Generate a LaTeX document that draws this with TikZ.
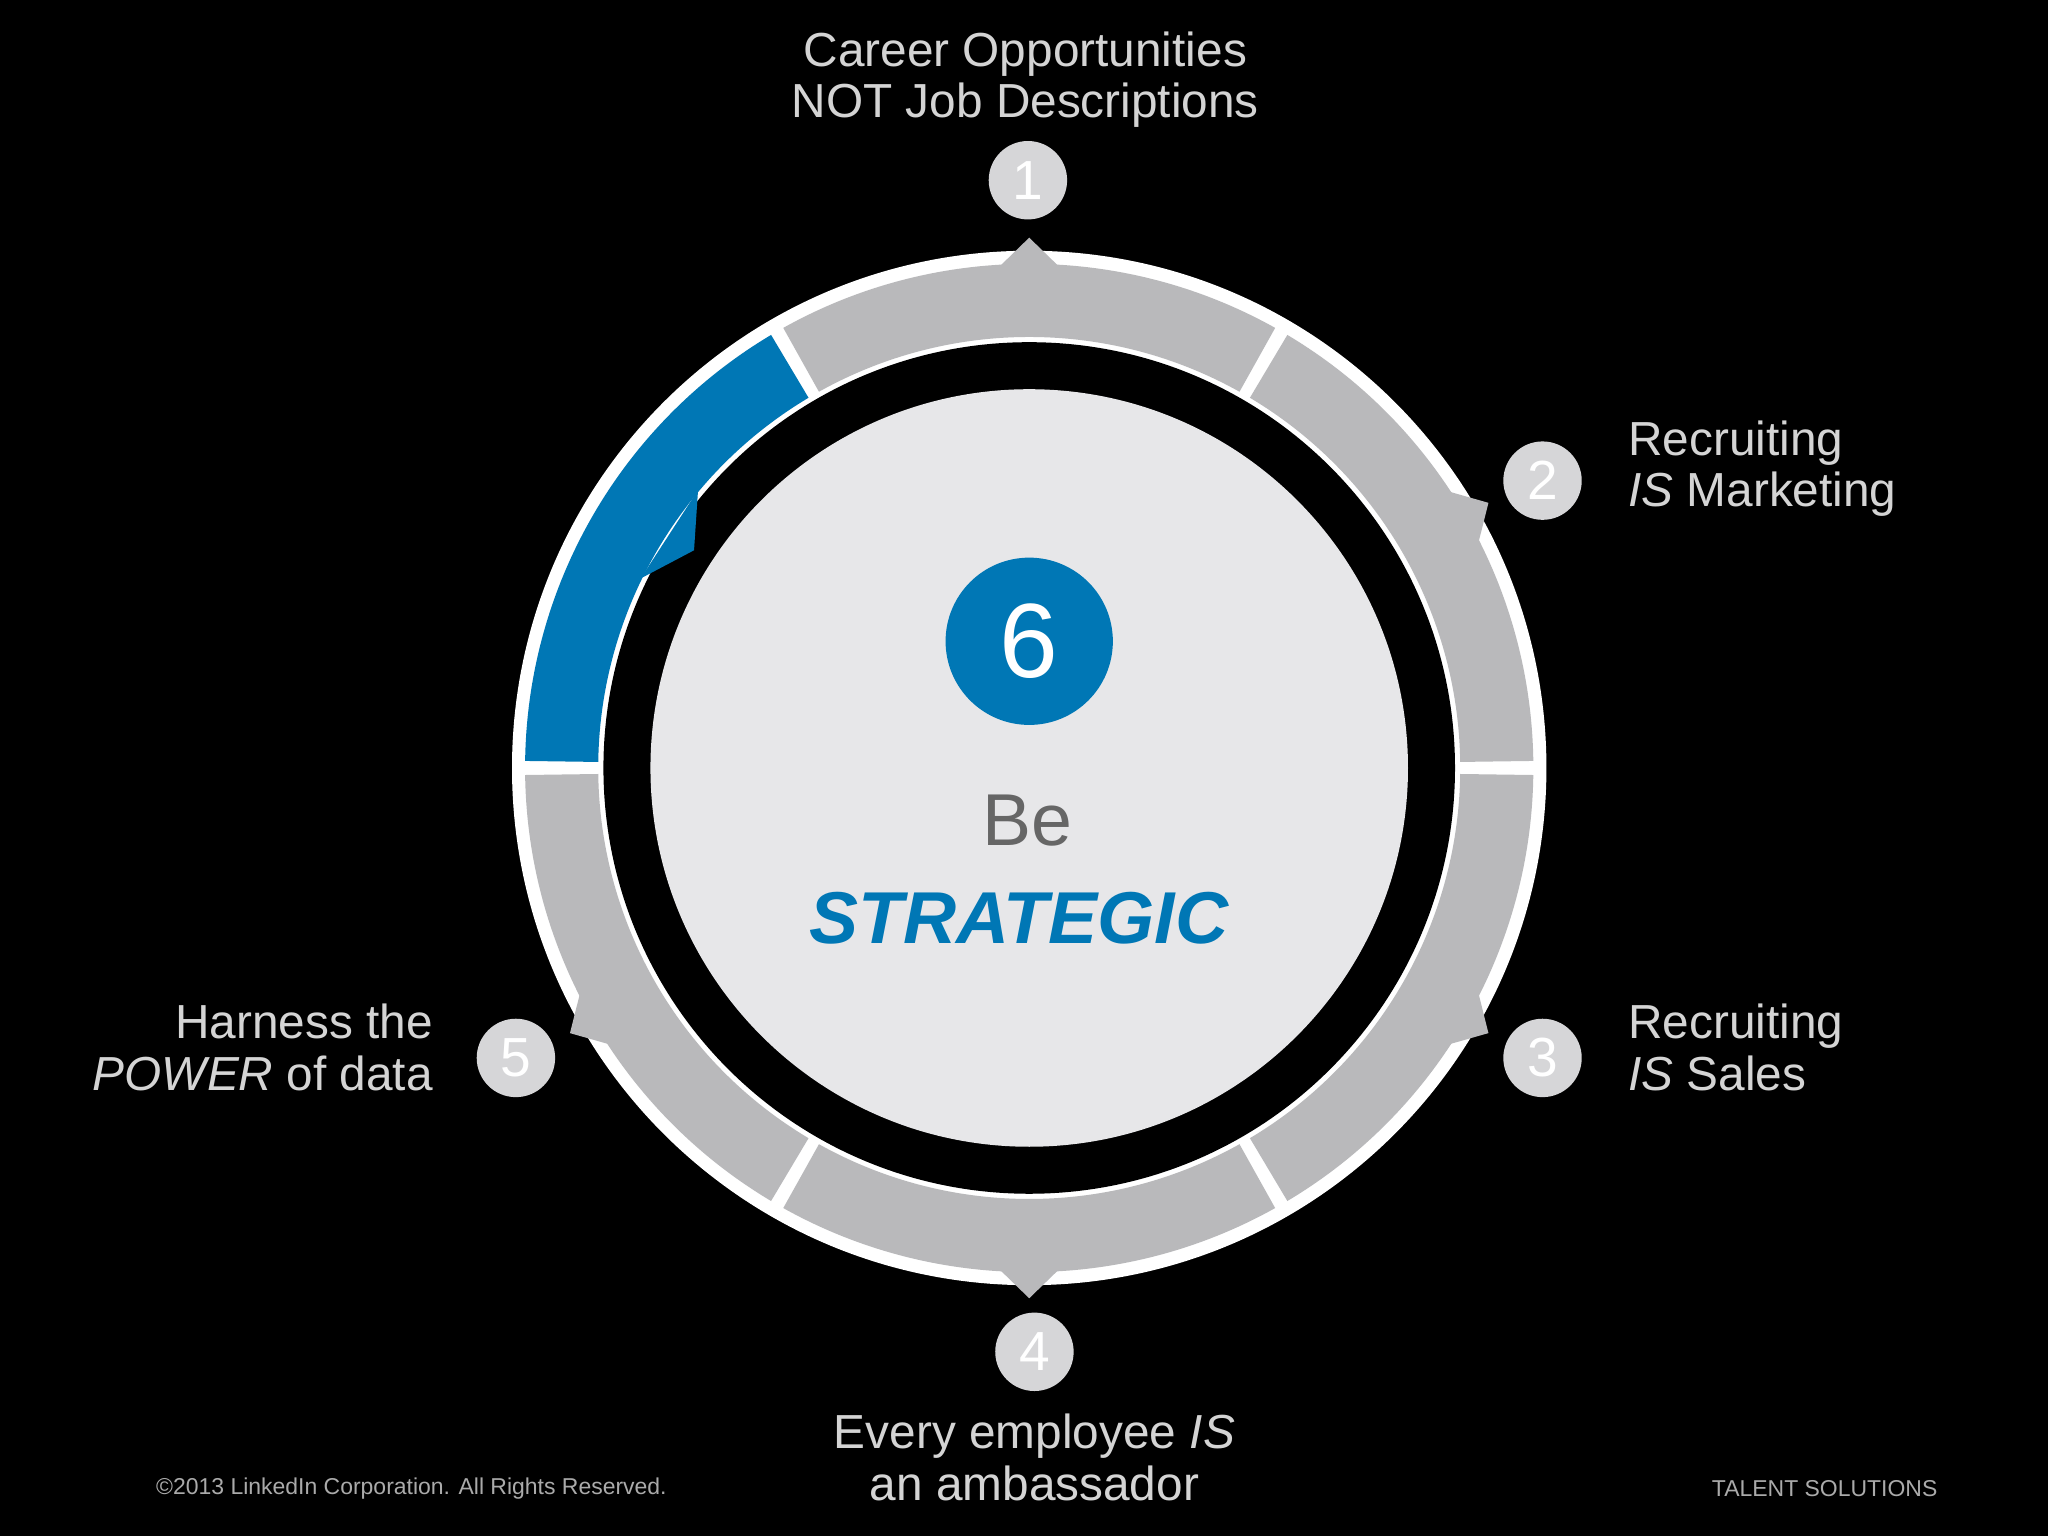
\documentclass[tikz,border=0pt]{standalone}
\usepackage{fontspec}
\setmainfont{Liberation Sans}
\definecolor{segg}{HTML}{B9B9BB}
\definecolor{diskc}{HTML}{E7E7E9}
\definecolor{numc}{HTML}{D6D6D8}
\definecolor{txt}{HTML}{D4D4D4}
\definecolor{lkblue}{HTML}{0077B5}
\definecolor{darkt}{HTML}{666666}
\begin{document}
\begin{tikzpicture}[x=0.01cm,y=0.01cm,
  num/.style={circle,fill=numc,minimum size=0.6cm,inner sep=0,text=white,font=\fontsize{12}{12}\selectfont},
  lab/.style={text=txt,font=\fontsize{10.4}{11.2}\selectfont,inner sep=0}]
\fill[black] (0,0) rectangle (1568,1176);
\useasboundingbox (0,0) rectangle (1568,1176);
\begin{scope}[shift={(788,588)}]
\fill[white] (0,0) circle (396);
\foreach \a in {0,60,180,240,300}{
  \fill[segg] (\a+0.8:386) arc(\a+0.8:\a+59.2:386) -- (\a+59.2:330) arc(\a+59.2:\a+0.8:330) -- cycle;
}
\fill[lkblue] (120.8:386) arc(120.8:179.2:386) -- (179.2:330) arc(179.2:120.8:330) -- cycle;
\foreach \a in {90,30,-30,-90,210}{
  \fill[segg] (\a-3.5:384) -- (\a:406) -- (\a+3.5:384) -- cycle;
}
\fill[black] (0,0) circle (326);
\fill[lkblue] (140:331) -- (147:306) -- (154:331) -- cycle;
\fill[diskc] (0,0) circle (290);
\end{scope}
\node[circle,fill=lkblue,minimum size=1.28cm,inner sep=0,text=white,font=\fontsize{23}{23}\selectfont] (n6) at (788,685) {6};
\node[text=darkt,font=\fontsize{16}{16}\selectfont] (be) at (787,548) {Be};
\node[text=lkblue,font=\fontsize{16}{16}\selectfont\bfseries\itshape] (st) at (780,473) {STRATEGIC};
\node[num] (n1) at (787,1038) {1};
\node[num] (n2) at (1181,808) {2};
\node[num] (n3) at (1181,366) {3};
\node[num] (n4) at (792,141) {4};
\node[num] (n5) at (395,366) {5};
\node[lab,align=center] (t1) at (785,1115) {Career Opportunities\\NOT Job Descriptions};
\node[lab,align=left,anchor=west] (t2) at (1246,817) {Recruiting\\\textit{IS} Marketing};
\node[lab,align=left,anchor=west] (t3) at (1246,374) {Recruiting\\\textit{IS} Sales};
\node[lab,align=right,anchor=east] (t5) at (332,374) {Harness the\\\textit{POWER} of data};
\node[lab,align=center] (t4) at (792,60) {Every employee \textit{IS}\\an ambassador};
\node[text=txt!80!black,font=\fontsize{5}{6}\selectfont,inner sep=0] (f1) at (315,36) {\textcopyright2013 LinkedIn Corporation. All Rights Reserved.};
\node[text=txt!80!black,font=\fontsize{5}{6}\selectfont,inner sep=0] (f2) at (1397,36) {TALENT SOLUTIONS};
\end{tikzpicture}
\end{document}
